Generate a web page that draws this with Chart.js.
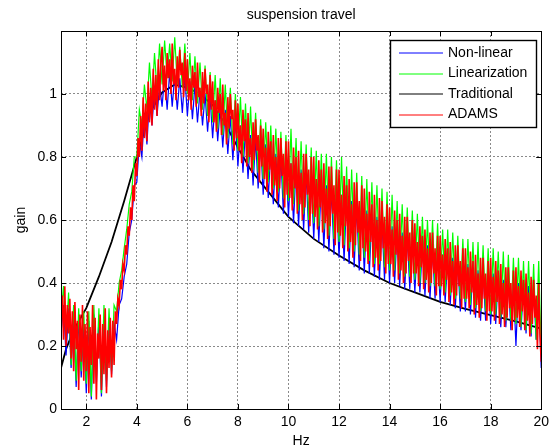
<!DOCTYPE html>
<html>
<head>
<meta charset="utf-8">
<script src="https://cdn.jsdelivr.net/npm/chart.js@4.4.1/dist/chart.umd.min.js"></script>
<style>
html,body{margin:0;padding:0;background:#fff;}
canvas{display:block;}
</style>
</head>
<body>
<canvas id="c" width="554" height="448"></canvas>
<script>
// ---- axes / ticks ----
const xTicks = [2, 4, 6, 8, 10, 12, 14, 16, 18, 20];
const xTickLabels = ['2', '4', '6', '8', '10', '12', '14', '16', '18', '20'];
const yTicks = [0, 0.2, 0.4, 0.6, 0.8, 1];
const yTickLabels = ['0', '0.2', '0.4', '0.6', '0.8', '1'];
const seriesNames = ['Non-linear', 'Linearization', 'Traditional', 'ADAMS'];

// frequency sampling grids (Hz)
const freqStart = 1;
const fineStep = 0.05;   // ADAMS sampled every 0.05 Hz
const coarseStep = 0.1;  // Non-linear / Linearization sampled every 0.1 Hz

// ADAMS (red), 1.00 .. 20.00 Hz every 0.05
const adams = [
 0.27,0.36,0.22,0.39,0.20,0.33,0.24,0.35,0.16,0.31,0.12,0.34,0.19,0.28,0.06,0.30,0.15,0.33,0.09,0.27,
 0.12,0.31,0.05,0.26,0.14,0.33,0.08,0.29,0.03,0.24,0.16,0.30,0.06,0.27,0.11,0.32,0.05,0.25,0.13,0.29,
 0.10,0.28,0.14,0.31,0.27,0.35,0.33,0.41,0.38,0.46,0.44,0.52,0.49,0.58,0.55,0.64,0.60,0.71,0.66,0.78,
 0.74,0.86,0.80,0.93,0.82,0.99,0.86,0.97,0.85,1.04,0.91,1.02,0.90,1.08,0.95,1.06,0.93,1.11,0.98,1.10,
 1.15,1.01,1.09,0.98,1.13,1.05,1.11,1.00,1.16,1.03,1.08,0.98,1.12,1.02,1.14,1.06,1.10,0.99,1.13,1.01,
 1.11,0.98,1.05,0.95,1.09,1.02,1.07,0.96,1.10,0.99,1.02,0.93,1.07,0.97,1.08,1.00,1.03,0.91,1.06,0.95,
 1.04,0.91,0.98,0.88,1.02,0.94,1.00,0.87,1.03,0.90,0.94,0.84,0.99,0.89,1.00,0.92,0.95,0.82,0.98,0.86,
 0.97,0.82,0.90,0.78,0.95,0.85,0.92,0.77,0.94,0.80,0.86,0.75,0.91,0.79,0.92,0.82,0.87,0.72,0.90,0.77,
 0.89,0.73,0.83,0.69,0.88,0.76,0.85,0.68,0.87,0.71,0.80,0.66,0.86,0.70,0.86,0.74,0.81,0.64,0.85,0.68,
 0.85,0.67,0.78,0.63,0.83,0.70,0.80,0.62,0.82,0.65,0.75,0.60,0.81,0.64,0.81,0.68,0.76,0.58,0.80,0.62,
 0.80,0.61,0.73,0.57,0.79,0.64,0.76,0.56,0.78,0.59,0.70,0.54,0.77,0.58,0.77,0.62,0.71,0.52,0.76,0.56,
 0.76,0.55,0.68,0.51,0.74,0.58,0.71,0.50,0.73,0.53,0.65,0.48,0.72,0.52,0.72,0.56,0.66,0.47,0.71,0.51,
 0.70,0.50,0.62,0.46,0.69,0.53,0.65,0.45,0.68,0.48,0.60,0.44,0.67,0.47,0.66,0.51,0.61,0.43,0.65,0.46,
 0.64,0.46,0.57,0.42,0.63,0.49,0.60,0.41,0.62,0.44,0.55,0.40,0.61,0.43,0.61,0.47,0.56,0.40,0.60,0.43,
 0.59,0.43,0.53,0.39,0.58,0.45,0.55,0.38,0.57,0.41,0.51,0.37,0.56,0.40,0.56,0.43,0.51,0.36,0.55,0.39,
 0.55,0.39,0.49,0.36,0.54,0.41,0.51,0.34,0.53,0.37,0.47,0.33,0.52,0.36,0.52,0.39,0.47,0.32,0.51,0.35,
 0.51,0.35,0.45,0.32,0.50,0.37,0.47,0.30,0.49,0.33,0.43,0.29,0.48,0.32,0.48,0.35,0.43,0.28,0.47,0.31,
 0.48,0.31,0.42,0.28,0.47,0.34,0.44,0.27,0.46,0.30,0.40,0.26,0.45,0.29,0.45,0.32,0.40,0.25,0.44,0.28,
 0.45,0.29,0.39,0.26,0.44,0.31,0.41,0.25,0.43,0.28,0.37,0.23,0.42,0.27,0.41,0.29,0.36,0.19,0.40,0.24,
 0.15
];

// Linearization (green), 1.0 .. 20.0 Hz every 0.1
const linearization = [
 0.30,0.39,0.22,0.37,0.14,0.33,0.09,0.32,0.12,0.31,
 0.08,0.31,0.04,0.33,0.10,0.32,0.05,0.33,0.09,0.32,
 0.12,0.33,0.31,0.40,0.44,0.51,0.57,0.65,0.69,0.80,
 0.80,0.95,0.90,1.03,0.95,1.10,0.98,1.13,1.01,1.16,
 1.03,1.17,1.05,1.16,1.04,1.18,1.03,1.15,1.02,1.16,
 1.00,1.13,0.98,1.12,0.97,1.10,0.95,1.09,0.93,1.07,
 0.91,1.06,0.89,1.05,0.87,1.03,0.86,1.02,0.84,1.00,
 0.82,0.99,0.80,0.97,0.78,0.96,0.76,0.94,0.75,0.92,
 0.73,0.91,0.72,0.90,0.70,0.89,0.69,0.88,0.67,0.87,
 0.66,0.89,0.65,0.86,0.63,0.85,0.62,0.84,0.60,0.83,
 0.59,0.82,0.58,0.81,0.57,0.81,0.55,0.80,0.54,0.79,
 0.53,0.80,0.52,0.77,0.51,0.76,0.50,0.75,0.49,0.74,
 0.48,0.73,0.47,0.72,0.46,0.71,0.46,0.70,0.45,0.69,
 0.44,0.68,0.44,0.66,0.43,0.65,0.42,0.64,0.42,0.63,
 0.41,0.62,0.40,0.61,0.40,0.60,0.39,0.60,0.39,0.59,
 0.38,0.57,0.37,0.57,0.36,0.56,0.35,0.55,0.35,0.54,
 0.34,0.54,0.33,0.53,0.32,0.53,0.31,0.52,0.31,0.51,
 0.30,0.51,0.30,0.50,0.29,0.50,0.28,0.49,0.28,0.48,
 0.27,0.48,0.26,0.47,0.25,0.47,0.24,0.46,0.22,0.47,
 0.18
];

// Non-linear (blue), 1.0 .. 20.0 Hz every 0.1
const nonLinear = [
 0.24,0.33,0.17,0.32,0.13,0.28,0.07,0.29,0.10,0.27,
 0.05,0.28,0.03,0.30,0.08,0.29,0.04,0.28,0.07,0.29,
 0.11,0.27,0.22,0.33,0.35,0.42,0.46,0.56,0.60,0.71,
 0.72,0.85,0.80,0.94,0.84,0.99,0.90,1.02,0.93,1.03,
 0.96,1.06,0.95,1.07,0.96,1.06,0.95,1.05,0.94,1.06,
 0.93,1.04,0.92,1.03,0.91,1.01,0.90,1.00,0.88,0.99,
 0.86,0.98,0.85,0.96,0.83,0.95,0.81,0.93,0.79,0.92,
 0.77,0.90,0.75,0.89,0.73,0.87,0.71,0.86,0.70,0.85,
 0.68,0.84,0.67,0.82,0.65,0.81,0.64,0.80,0.62,0.79,
 0.61,0.78,0.59,0.77,0.58,0.76,0.57,0.75,0.56,0.74,
 0.54,0.73,0.53,0.72,0.51,0.71,0.50,0.70,0.49,0.69,
 0.48,0.68,0.47,0.67,0.46,0.66,0.45,0.65,0.44,0.64,
 0.43,0.63,0.43,0.62,0.42,0.61,0.41,0.60,0.41,0.59,
 0.40,0.58,0.40,0.57,0.39,0.56,0.38,0.55,0.38,0.54,
 0.37,0.53,0.37,0.52,0.36,0.52,0.35,0.51,0.35,0.50,
 0.34,0.49,0.34,0.48,0.33,0.48,0.32,0.47,0.31,0.46,
 0.31,0.46,0.30,0.45,0.29,0.44,0.28,0.44,0.28,0.43,
 0.27,0.43,0.27,0.42,0.26,0.41,0.26,0.41,0.25,0.40,
 0.20,0.40,0.25,0.39,0.24,0.39,0.23,0.38,0.22,0.37,
 0.13
];

// Traditional (black), smooth curve
const tradFreq = [1, 1.2, 1.5, 2, 2.5, 3, 3.5, 4, 4.5, 5, 5.5, 6, 6.5, 7, 7.5, 8, 8.5, 9, 9.5, 10, 11, 12, 13, 14, 15, 16, 17, 18, 19, 20];
const tradGain = [0.13, 0.19, 0.25, 0.32, 0.42, 0.53, 0.66, 0.80, 0.94, 1.005, 1.03, 1.02, 1.00, 0.965, 0.905, 0.83, 0.76, 0.71, 0.66, 0.61, 0.54, 0.487, 0.44, 0.40, 0.37, 0.34, 0.318, 0.298, 0.278, 0.255];

function sampled(values, step) {
  return values.map((v, i) => ({ x: Math.round((freqStart + i * step) * 100) / 100, y: v }));
}
function paired(xs, ys) {
  return xs.map((x, i) => ({ x: x, y: ys[i] }));
}

const FONT = "'Liberation Sans', Arial, Helvetica, sans-serif";
Chart.defaults.font.family = FONT;
Chart.defaults.font.size = 14;
Chart.defaults.color = '#000';

const frame = {
  id: 'frame',
  afterDraw(chart) {
    const ctx = chart.ctx;
    const a = chart.chartArea;
    const xs = chart.scales.x, ys = chart.scales.y;
    ctx.save();
    // ticks pointing inward on all four sides
    ctx.strokeStyle = '#000';
    ctx.lineWidth = 1;
    ctx.beginPath();
    xTicks.forEach(v => {
      const px = Math.round(xs.getPixelForValue(v)) + 0.5;
      ctx.moveTo(px, a.bottom); ctx.lineTo(px, a.bottom - 5);
      ctx.moveTo(px, a.top); ctx.lineTo(px, a.top + 5);
    });
    yTicks.forEach(v => {
      const py = Math.round(ys.getPixelForValue(v)) + 0.5;
      ctx.moveTo(a.left, py); ctx.lineTo(a.left + 5, py);
      ctx.moveTo(a.right, py); ctx.lineTo(a.right - 5, py);
    });
    ctx.stroke();
    // axes box
    ctx.strokeRect(Math.round(a.left) + 0.5, Math.round(a.top) + 0.5,
                   Math.round(a.right - a.left), Math.round(a.bottom - a.top));
    // legend
    const lx = 390, ly = 40, lw = 146, lh = 87;
    ctx.fillStyle = '#fff';
    ctx.fillRect(lx, ly, lw, lh);
    ctx.lineWidth = 1.4;
    ctx.strokeRect(lx + 0.5, ly + 0.5, lw, lh);
    ctx.font = '14px ' + FONT;
    ctx.textBaseline = 'middle';
    ctx.textAlign = 'left';
    const ds = chart.data.datasets;
    ds.forEach((d, i) => {
      const y = 53 + i * 20.5;
      ctx.strokeStyle = d.borderColor;
      ctx.lineWidth = 1;
      ctx.beginPath();
      ctx.moveTo(399, Math.round(y));
      ctx.lineTo(443, Math.round(y));
      ctx.stroke();
      ctx.fillStyle = '#000';
      ctx.fillText(d.label, 448, y);
    });
    ctx.restore();
  }
};

new Chart(document.getElementById('c'), {
  type: 'line',
  data: {
    datasets: [
      { label: seriesNames[0], data: sampled(nonLinear, coarseStep), borderColor: '#0000ff', borderWidth: 1.2, pointRadius: 0, order: 2 },
      { label: seriesNames[1], data: sampled(linearization, coarseStep), borderColor: '#00ff00', borderWidth: 1.2, pointRadius: 0, order: 1 },
      { label: seriesNames[2], data: paired(tradFreq, tradGain), borderColor: '#000000', borderWidth: 1.8, pointRadius: 0, order: 3 },
      { label: seriesNames[3], data: sampled(adams, fineStep), borderColor: '#ff0000', borderWidth: 1.6, pointRadius: 0, order: 0 }
    ]
  },
  options: {
    responsive: false,
    animation: false,
    devicePixelRatio: 1,
    parsing: false,
    normalized: true,
    layout: { padding: { left: 0, right: 12, top: 0, bottom: 0 } },
    plugins: {
      legend: { display: false },
      tooltip: { enabled: false },
      title: {
        display: true,
        text: 'suspension travel',
        fullSize: false,
        color: '#000',
        font: { size: 14, weight: 'normal', family: FONT, lineHeight: 1.2 },
        padding: { top: 6.6, bottom: 7.6 }
      }
    },
    scales: {
      x: {
        type: 'linear', min: 1, max: 20,
        afterBuildTicks: s => { s.ticks = xTicks.map(v => ({ value: v })); },
        afterFit: s => { s.height = 39; },
        ticks: { padding: 5, color: '#000', font: { size: 14 }, maxRotation: 0,
                 callback: (v, i) => xTickLabels[i] },
        grid: { color: '#8a8a8a', lineWidth: 1, drawTicks: false },
        border: { display: false, dash: [2, 2] },
        title: { display: true, text: 'Hz', color: '#000', font: { size: 14, lineHeight: 1 }, padding: { top: 0, bottom: 0 } }
      },
      y: {
        type: 'linear', min: 0, max: 1.2,
        afterBuildTicks: s => { s.ticks = yTicks.map(v => ({ value: v })); },
        afterFit: s => { s.width = 61; },
        ticks: { padding: 4, color: '#000', font: { size: 14 },
                 callback: (v, i) => yTickLabels[i] },
        grid: { color: '#8a8a8a', lineWidth: 1, drawTicks: false },
        border: { display: false, dash: [2, 2] },
        title: { display: true, text: 'gain', color: '#000', font: { size: 14, lineHeight: 1 }, padding: { top: 14, bottom: 0 } }
      }
    }
  },
  plugins: [frame]
});
</script>
</body>
</html>
